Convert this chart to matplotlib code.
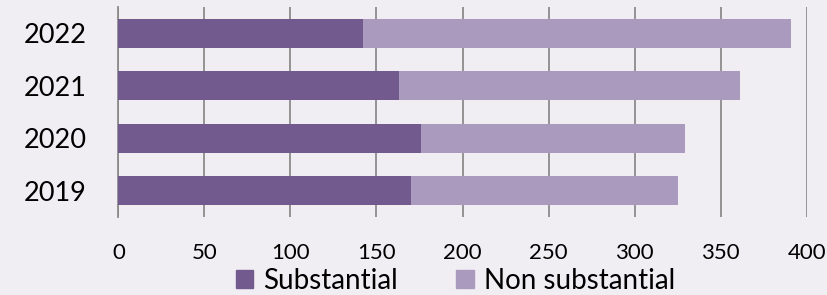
import matplotlib.pyplot as plt
from matplotlib.patches import Patch

# Data
years = ['2019', '2020', '2021', '2022']
substantial = [170, 176, 163, 142]
non_substantial = [155, 153, 198, 249]

bg = '#f0eef3'
dark = '#725a8e'
light = '#a99abe'

plt.rcParams['font.family'] = ['Lato', 'DejaVu Sans']

fig = plt.figure(figsize=(8.28, 2.95), dpi=100, facecolor=bg)
ax = fig.add_axes([0.1429, 0.2644, 0.8314, 0.7116], facecolor=bg)

ax.barh(years, substantial, height=0.56, color=dark, zorder=3)
ax.barh(years, non_substantial, left=substantial, height=0.56, color=light, zorder=3)

ax.set_xlim(0, 400)
ax.set_ylim(-0.5, 3.5)
ax.set_xticks(range(0, 401, 50))
ax.grid(axis='x', color='#8c8c8c', linewidth=1.3, zorder=0)
ax.tick_params(axis='x', length=0, pad=19, labelsize=16)
ax.tick_params(axis='y', length=0, pad=23, labelsize=19.5)

for side in ['top', 'right', 'bottom']:
    ax.spines[side].set_visible(False)
ax.spines['left'].set_color('#8c8c8c')
ax.spines['left'].set_linewidth(1.3)

handles = [Patch(color=dark, label='Substantial'),
           Patch(color=light, label='Non substantial')]
fig.legend(handles=handles, loc='center', bbox_to_anchor=(0.55, 0.048), ncol=2,
           frameon=False, fontsize=20, handlelength=0.62, handleheight=0.62,
           handletextpad=0.36, columnspacing=2.1, borderpad=0)

fig.savefig('out.png', dpi=100, facecolor=bg)
